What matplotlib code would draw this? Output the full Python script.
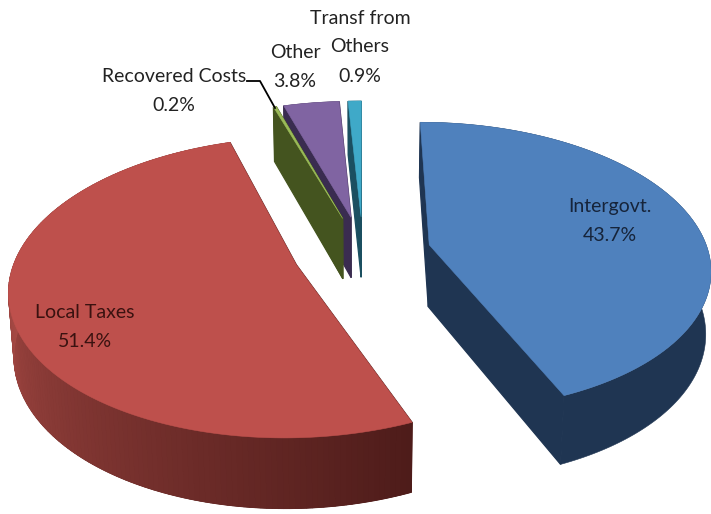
# -*- coding: utf-8 -*-
# Exploded 3D pie of revenue sources, projected by hand since matplotlib has no 3D pie
import numpy as np
import matplotlib
matplotlib.use('Agg')
import matplotlib.pyplot as plt
from matplotlib.patches import Polygon

categories = ['Intergovt.', 'Local Taxes', 'Recovered Costs', 'Other', 'Transf from\nOthers']
shares = [43.7, 51.4, 0.2, 3.8, 0.9]

# camera, fitted to the picture (pixels)
CX, CY = 360.0, 252.0
SX, SY = 279.0, 143.0
PERSP = 0.15
DEPTH = 63.0
SHRINK = 0.015
EXPLODE = 0.255
LINE_H = 29

slice_shift = [0, 4, 3, 3, 3]
top_colors = ['#4F81BD', '#BE504C', '#9BBB59', '#8064A2', '#3FA9C8']
side_colors = ['#1F3552', '#4E1C1A', '#44541F', '#3A2C50', '#1B4F60']
wall_light = {1: '#A84A45'}


def project(x, y, shift, low=False):
    w = 1 + PERSP * y
    if low:
        w = w + SHRINK
    px = CX + shift + SX * x / w
    py = CY - SY * y / w
    if low:
        py = py + DEPTH / w
    return np.column_stack([px, py])


def mix(c1, c2, t):
    a = np.array(matplotlib.colors.to_rgb(c1))
    b = np.array(matplotlib.colors.to_rgb(c2))
    return tuple(a + (b - a) * t)


def poly(ax, pts, color, z, lw=0.4):
    ax.add_patch(Polygon(pts, closed=True, facecolor=color, edgecolor=color, lw=lw, zorder=z))


def draw_slice(ax, i, start, end, z):
    mid = np.radians((start + end) / 2)
    cx = EXPLODE * np.sin(mid)
    cy = EXPLODE * np.cos(mid)
    n = max(int(end - start), 4)
    th = np.radians(np.linspace(start, end, n + 1))
    xs = cx + np.sin(th)
    ys = cy + np.cos(th)
    shift = slice_shift[i]

    hub_hi = project(np.array([cx]), np.array([cy]), shift)
    hub_lo = project(np.array([cx]), np.array([cy]), shift, low=True)
    rim_hi = project(xs, ys, shift)
    rim_lo = project(xs, ys, shift, low=True)

    # radial walls, thicker edge so no seam shows where they meet the outer wall
    for k in (0, -1):
        poly(ax, np.vstack([hub_hi, rim_hi[k], rim_lo[k], hub_lo]), side_colors[i], z + 0.07, lw=0.9)
    # outer wall, red one goes in strips to carry the gradient
    poly(ax, np.vstack([rim_hi, rim_lo[::-1]]), side_colors[i], z + 0.05)
    if i in wall_light:
        for k in range(n):
            t = np.clip((np.degrees(th[k]) - start) / 113.0, 0, 1)
            color = mix(side_colors[i], wall_light[i], t)
            poly(ax, np.vstack([rim_hi[k], rim_hi[k + 1], rim_lo[k + 1], rim_lo[k]]), color, z + 0.1, lw=0.7)
    # top face
    poly(ax, np.vstack([hub_hi, rim_hi]), top_colors[i], z + 0.2)


fig = plt.figure(figsize=(7.11, 5.14), dpi=100)
ax = fig.add_axes([0, 0, 1, 1])
ax.set_xlim(0, 711)
ax.set_ylim(514, 0)
ax.axis('off')

angles = np.concatenate([[0], np.cumsum(shares) / np.sum(shares) * 360])
# back slices first, recovered costs sits in front of other
order = {4: 1, 3: 2, 2: 3, 1: 4, 0: 5}
for i in range(len(shares)):
    draw_slice(ax, i, angles[i], angles[i + 1], order[i])

# labels, one text per line so the tall line spacing can be kept
label_pos = [(610, 221), (85, 327), (174, 91), (295, 67), (360, 47)]
text_colors = ['#16243A', '#3A1210', '#222222', '#222222', '#222222']
for i, (lx, ly) in enumerate(label_pos):
    lines = ('%s\n%.1f%%' % (categories[i], shares[i])).split('\n')
    for k, line in enumerate(lines):
        ax.text(lx, ly + (k - (len(lines) - 1) / 2) * LINE_H, line, ha='center', va='center',
                fontsize=14, family='Lato', color=text_colors[i], zorder=10)

# leader line for the thin slice
ax.plot([247, 260, 275], [81, 81, 108], color='black', lw=1.3, zorder=9)

fig.savefig('out.png', dpi=100)
